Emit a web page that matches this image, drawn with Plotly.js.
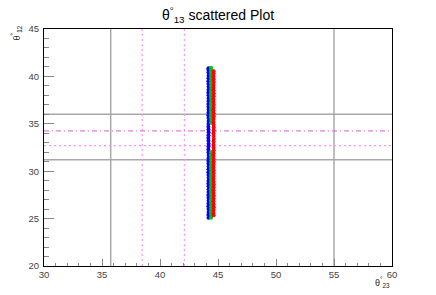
<!DOCTYPE html>
<html>
<head>
<meta charset="utf-8">
<script src="https://cdn.plot.ly/plotly-3.0.1.min.js"></script>
<style>html,body{margin:0;padding:0;background:#fff;}#chart{width:436px;height:295px;}</style>
</head>
<body>
<div id="chart"></div>
<script>
// Blue series
const blueX = [44.18,44.17,44.19,44.18,44.17,44.18,44.19,44.18,44.17,44.18,44.19,44.18,44.17,44.18,44.19,44.18,44.17,44.18,44.19,44.18,44.17,44.18,44.19,44.18,44.17,44.18,44.19,44.18,44.17,44.18,44.19,44.18,44.17,44.18,44.19,44.18,44.17,44.18,44.19,44.18,44.17,44.18,44.19,44.18,44.17,44.18,44.19,44.18,44.17,44.18,44.19,44.18,44.17,44.18];
const blueY = [25.1,25.4,25.7,26.0,26.3,26.6,26.9,27.2,27.5,27.8,28.1,28.4,28.7,29.0,29.3,29.6,29.9,30.2,30.5,30.8,31.1,31.4,31.7,32.0,32.3,32.6,32.9,33.2,33.5,33.8,34.1,34.4,34.7,35.0,35.3,35.6,35.9,36.2,36.5,36.8,37.1,37.4,37.7,38.0,38.3,38.6,38.9,39.2,39.5,39.8,40.1,40.4,40.7,40.85];
// Green series
const greenX = [44.40,44.41,44.39,44.40,44.41,44.40,44.39,44.40,44.41,44.40,44.39,44.40,44.41,44.40,44.39,44.40,44.41,44.40,44.39,44.40,44.41,44.40,44.39,44.40,44.40,44.41,44.39,44.40,44.41,44.40,44.39,44.40,44.41,44.40,44.39,44.40,44.41,44.40,44.39,44.40,44.41,44.40,44.39,44.41,44.40];
const greenY = [25.1,25.4,25.7,26.0,26.3,26.6,26.9,27.2,27.5,27.8,28.1,28.4,28.7,29.0,29.3,29.6,29.9,30.2,30.5,30.8,31.1,31.4,31.7,32.0,35.1,35.4,35.7,36.0,36.3,36.6,36.9,37.2,37.5,37.8,38.1,38.4,38.7,39.0,39.3,39.6,39.9,40.2,40.5,40.75,40.9];
// Red series
const redX = [44.62,44.61,44.62,44.63,44.62,44.61,44.62,44.63,44.62,44.61,44.62,44.63,44.62,44.61,44.62,44.63,44.62,44.61,44.62,44.63,44.62,44.61,44.62,44.63,44.62,44.61,44.62,44.63,44.62,44.61,44.62,44.63,44.62,44.61,44.62,44.63,44.62,44.61,44.62,44.63,44.62,44.61,44.62,44.63,44.62,44.61,44.62,44.63,44.62,44.61,44.62,44.62];
const redY = [25.35,25.6,25.9,26.2,26.5,26.8,27.1,27.4,27.7,28.0,28.3,28.6,28.9,29.2,29.5,29.8,30.1,30.4,30.7,31.0,31.3,31.6,31.9,32.2,32.5,32.8,33.1,33.4,33.7,34.0,34.3,34.6,34.9,35.2,35.5,35.8,36.1,36.4,36.7,37.0,37.3,37.6,37.9,38.2,38.5,38.8,39.1,39.4,39.7,40.0,40.3,40.55];
// Reference lines
const grayVLines = [35.75, 55.0];
const grayHLines = [36.0, 31.2];
const pinkVLines = [38.47, 42.1];
const pinkDashDotH = [34.25];
const pinkDotH = [32.7];
const xTicks = [30,35,40,45,50,55,60];
const yTicks = [20,25,30,35,40,45];

const mk = (c) => ({color: c, size: 4, line: {width: 0}});
const traces = [
  {type:'scatter', mode:'markers', x: blueX, y: blueY, marker: mk('#0000ff'), hoverinfo:'skip'},
  {type:'scatter', mode:'markers', x: greenX, y: greenY, marker: mk('#00c800'), hoverinfo:'skip'},
  {type:'scatter', mode:'markers', x: redX, y: redY, marker: mk('#ff0000'), hoverinfo:'skip'}
];

const shapes = [];
grayVLines.forEach(v => shapes.push({type:'line', xref:'x', yref:'paper', x0:v, x1:v, y0:0, y1:1, line:{color:'#a8a8a8', width:1.5}, layer:'below'}));
grayHLines.forEach(v => shapes.push({type:'line', xref:'paper', yref:'y', x0:0, x1:1, y0:v, y1:v, line:{color:'#a8a8a8', width:1.5}, layer:'below'}));
pinkVLines.forEach(v => shapes.push({type:'line', xref:'x', yref:'paper', x0:v, x1:v, y0:0, y1:1, line:{color:'#ff90ff', width:1.2, dash:'2px,3px'}, layer:'below'}));
pinkDashDotH.forEach(v => shapes.push({type:'line', xref:'paper', yref:'y', x0:0, x1:1, y0:v, y1:v, line:{color:'#d860d8', width:1, dash:'5px,3px,1px,3px'}, layer:'below'}));
pinkDotH.forEach(v => shapes.push({type:'line', xref:'paper', yref:'y', x0:0, x1:1, y0:v, y1:v, line:{color:'#ff90ff', width:1.2, dash:'2px,3px'}, layer:'below'}));

const tickFont = {family:'Liberation Sans, Arial, sans-serif', size:9.5, color:'#444'};
const layout = {
  width: 436, height: 295,
  margin: {l:44, r:44, t:29, b:29, pad:0},
  paper_bgcolor:'#fff', plot_bgcolor:'#fff',
  showlegend:false,
  title: {text:'θ<sup>°</sup><sub>13</sub> scattered Plot', x:0.5, xanchor:'center', y:0.965, yanchor:'top',
          font:{family:'Liberation Sans, Arial, sans-serif', size:14, color:'#000'}},
  xaxis: {range:[30,60], tickvals:xTicks, ticktext:xTicks.map(String), ticks:'inside', ticklen:7, tickcolor:'#888', tickwidth:1,
          minor:{dtick:1, ticks:'inside', ticklen:3.5, tickcolor:'#888'},
          showgrid:false, zeroline:false, showline:true, linecolor:'#000', linewidth:1, mirror:true,
          tickfont:tickFont, ticklabelstandoff:0},
  yaxis: {range:[20,45], tickvals:yTicks, ticktext:yTicks.map(String), ticks:'inside', ticklen:10, tickcolor:'#888', tickwidth:1,
          minor:{dtick:1, ticks:'inside', ticklen:5, tickcolor:'#888'},
          showgrid:false, zeroline:false, showline:true, linecolor:'#000', linewidth:1, mirror:true,
          tickfont:tickFont, ticklabelstandoff:2},
  shapes: shapes,
  annotations: [
    {xref:'paper', yref:'paper', x:1.0, y:-0.07, xanchor:'right', yanchor:'middle', showarrow:false,
     text:'θ<sup>°</sup><sub>23</sub>', font:{family:'Liberation Sans, Arial, sans-serif', size:9, color:'#222'}},
    {xref:'paper', yref:'paper', x:-0.078, y:0.985, xanchor:'center', yanchor:'middle', showarrow:false, textangle:-90,
     text:'θ<sup>°</sup><sub>12</sub>', font:{family:'Liberation Sans, Arial, sans-serif', size:9, color:'#222'}}
  ]
};
Plotly.newPlot('chart', traces, layout, {staticPlot:true, displayModeBar:false});
</script>
</body>
</html>
